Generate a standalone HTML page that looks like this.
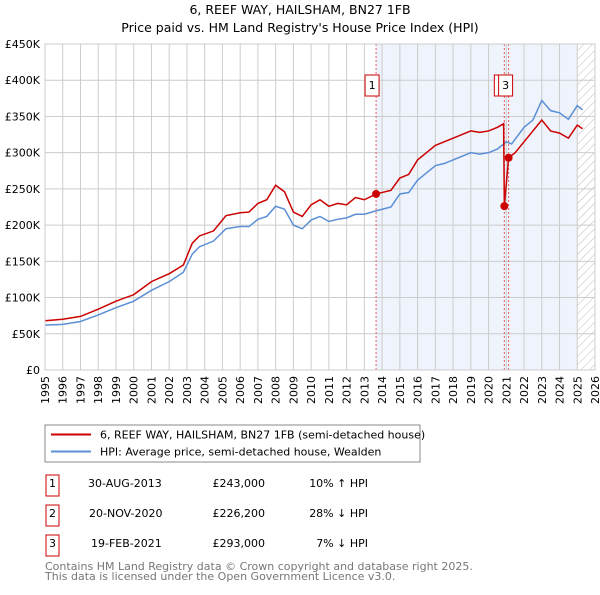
<!DOCTYPE html>
<html><head><meta charset="utf-8"><style>
body{margin:0;background:#fff;font-family:"Liberation Sans","DejaVu Sans",sans-serif}
svg text{font-family:"DejaVu Sans","Liberation Sans",sans-serif}
</style></head><body>
<svg id="c" width="600" height="590" xmlns="http://www.w3.org/2000/svg">
<text x="300" y="14" text-anchor="middle" font-size="12.5">6, REEF WAY, HAILSHAM, BN27 1FB</text>
<text x="300" y="32" text-anchor="middle" font-size="12.5">Price paid vs. HM Land Registry's House Price Index (HPI)</text>
<defs><pattern id="h" width="6" height="6" patternUnits="userSpaceOnUse" patternTransform="rotate(45)"><line x1="0" y1="0" x2="0" y2="6" stroke="#bbb" stroke-width="1"/></pattern></defs>
<g id="plot"></g>
<rect x="45" y="425" width="375" height="37" fill="#fff" stroke="#888"/>
<line x1="51" y1="434.5" x2="91" y2="434.5" stroke="#cc0000" stroke-width="2"/>
<text x="100" y="438.5" font-size="11">6, REEF WAY, HAILSHAM, BN27 1FB (semi-detached house)</text>
<line x1="51" y1="451.5" x2="91" y2="451.5" stroke="#5b8fd6" stroke-width="2"/>
<text x="100" y="455.5" font-size="11">HPI: Average price, semi-detached house, Wealden</text>
<g font-size="11">
<rect x="46" y="475" width="13" height="21" fill="#fff" stroke="#c00"/><text x="52.5" y="487" text-anchor="middle">1</text>
<text x="88" y="487">30-AUG-2013</text><text x="265" y="487" text-anchor="end">£243,000</text><text x="368" y="487" text-anchor="end">10% ↑ HPI</text>
<rect x="46" y="505" width="13" height="21" fill="#fff" stroke="#c00"/><text x="52.5" y="517" text-anchor="middle">2</text>
<text x="89" y="517">20-NOV-2020</text><text x="265" y="517" text-anchor="end">£226,200</text><text x="368" y="517" text-anchor="end">28% ↓ HPI</text>
<rect x="46" y="535" width="13" height="21" fill="#fff" stroke="#c00"/><text x="52.5" y="547" text-anchor="middle">3</text>
<text x="91" y="547">19-FEB-2021</text><text x="265" y="547" text-anchor="end">£293,000</text><text x="368" y="547" text-anchor="end">7% ↓ HPI</text>
</g>
<text x="45" y="570" font-size="11" fill="#777">Contains HM Land Registry data © Crown copyright and database right 2025.</text>
<text x="45" y="580" font-size="11" fill="#777">This data is licensed under the Open Government Licence v3.0.</text>
</svg>
<script>
const hpiX=[1995,1996,1997,1998,1999,2000,2001,2002,2002.8,2003.3,2003.7,2004.5,2005.2,2006,2006.5,2007,2007.5,2008,2008.5,2009,2009.5,2010,2010.5,2011,2011.5,2012,2012.5,2013,2013.7,2014.5,2015,2015.5,2016,2016.5,2017,2017.5,2018,2018.5,2019,2019.5,2020,2020.5,2021,2021.3,2022,2022.5,2023,2023.5,2024,2024.5,2025,2025.3];
const hpiY=[62,63,67,76,86,95,110,122,135,160,170,178,195,198,198,208,212,226,222,200,195,207,212,205,208,210,215,215,220,225,243,245,262,272,282,285,290,295,300,298,300,305,315,312,335,345,372,358,355,346,365,359];
const propX=[1995,1996,1997,1998,1999,2000,2001,2002,2002.8,2003.3,2003.7,2004.5,2005.2,2006,2006.5,2007,2007.5,2008,2008.5,2009,2009.5,2010,2010.5,2011,2011.5,2012,2012.5,2013,2013.66,2014.5,2015,2015.5,2016,2016.5,2017,2017.5,2018,2018.5,2019,2019.5,2020,2020.5,2020.85,2020.89,2021.13,2021.5,2022,2022.5,2023,2023.5,2024,2024.5,2025,2025.3];
const propY=[68,70,74,84,95,104,122,133,145,175,185,192,213,217,218,230,235,255,246,218,212,228,235,226,230,228,238,235,243,248,265,270,290,300,310,315,320,325,330,328,330,335,340,226.2,293,300,315,330,345,330,327,320,338,333];
const saleX=[2013.66,2020.89,2021.13];
const saleY=[243,226.2,293];
const saleLabels=["1","2","3"];
const yTicks=[0,50,100,150,200,250,300,350,400,450];
const years=[];for(let y=1995;y<=2026;y++)years.push(y);
const X=v=>45+(v-1995)*(550/31), Y=v=>370-v*(326/450);
const g=document.getElementById('plot'),NS='http://www.w3.org/2000/svg';
function mk(t,a,p){const e=document.createElementNS(NS,t);for(const k in a)e.setAttribute(k,a[k]);(p||g).appendChild(e);return e;}
let e;
e=mk('rect',{x:X(2013.66),y:44,width:X(2025)-X(2013.66),height:326,fill:'#eef3fc'});


e=mk('rect',{x:X(2025),y:44,width:X(2026)-X(2025),height:326,fill:'url(#h)'});


years.forEach(y=>{mk('line',{x1:X(y),y1:44,x2:X(y),y2:370,stroke:'#ccc'});
 e=mk('text',{x:0,y:0,'font-size':11,'text-anchor':'end',transform:'translate('+(X(y)+4)+',376) rotate(-90)'});e.textContent=y;
 
 });
yTicks.forEach(v=>{mk('line',{x1:45,y1:Y(v),x2:X(2026),y2:Y(v),stroke:'#ccc'});
 e=mk('text',{x:40,y:Y(v)+4,'font-size':11,'text-anchor':'end'});e.textContent=v?'£'+v+'K':'£0';
 
 });
saleX.forEach(x=>{mk('line',{x1:X(x),y1:44,x2:X(x),y2:370,stroke:'#e06060','stroke-dasharray':'2,2'});});
function path(xs,ys,c,n){e=mk('polyline',{points:xs.map((x,i)=>X(x)+','+Y(ys[i])).join(' '),fill:'none',stroke:c,'stroke-width':1.5});
 
 }
path(hpiX,hpiY,'#5b8fd6','hpi-line');
path(propX,propY,'#cc0000','property-line');
saleX.forEach((x,i)=>{e=mk('circle',{cx:X(x),cy:Y(saleY[i]),r:4,fill:'#cc0000'});
 
 });
[[0,-11],[1,-10],[2,-10]].forEach(([i,dx])=>{const bx=X(saleX[i])+dx;
 e=mk('rect',{x:bx,y:75,width:14,height:21,fill:'#fff',stroke:'#c00'});
 
 
 e=mk('text',{x:bx+7,y:89,'font-size':11,'text-anchor':'middle'});e.textContent=saleLabels[i];
 
 });
mk('rect',{x:45,y:44,width:X(2026)-45,height:326,fill:'none',stroke:'#ccc'});
</script>
</body></html>
